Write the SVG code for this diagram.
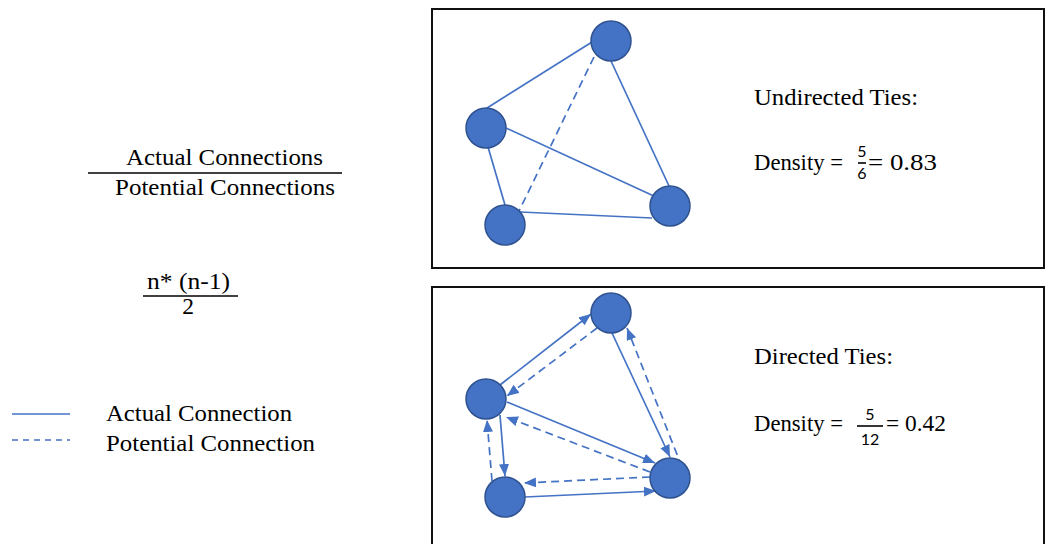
<svg xmlns="http://www.w3.org/2000/svg" width="1047" height="544" viewBox="0 0 1047 544">
  <style>
    .txt { font-family: "Liberation Serif", "Times New Roman", serif; font-size: 23.5px; fill: #000; }
    .frac { font-family: Lato, "Liberation Sans", sans-serif; font-size: 16px; fill: #000; }
    .node { fill: #4472C4; stroke: #2F528F; stroke-width: 1.5; }
    .edge { stroke: #4472C4; stroke-width: 1.7; fill: none; }
    .dash { stroke-dasharray: 8 5; }
    .box { fill: none; stroke: #111; stroke-width: 2; }
    .rule { stroke: #000; stroke-width: 1.6; }
  </style>
  <defs>
    <marker id="arrow" markerUnits="userSpaceOnUse" markerWidth="13" markerHeight="11" refX="12" refY="5" orient="auto">
      <path d="M0,0 L12,5 L0,10 Z" fill="#4472C4"/>
    </marker>
  </defs>
  <rect width="1047" height="544" fill="#ffffff"/>

  <!-- formula on the left -->
  <g id="formula">
    <text class="txt" x="126" y="165" textLength="197" lengthAdjust="spacingAndGlyphs">Actual Connections</text>
    <line class="rule" x1="88" y1="173" x2="342" y2="173"/>
    <text class="txt" x="115" y="195" textLength="220" lengthAdjust="spacingAndGlyphs">Potential Connections</text>
    <text class="txt" x="147" y="289" textLength="83" lengthAdjust="spacingAndGlyphs">n* (n-1)</text>
    <line class="rule" x1="143" y1="296" x2="238" y2="296"/>
    <text class="txt" x="188" y="314" text-anchor="middle">2</text>
  </g>

  <!-- legend -->
  <g id="legend">
    <line class="edge" x1="12" y1="414" x2="70" y2="414" stroke-width="1.4"/>
    <line class="edge" x1="12" y1="440" x2="70" y2="440" stroke-width="1.4" stroke-dasharray="6 5"/>
    <text class="txt" x="106" y="421" textLength="186" lengthAdjust="spacingAndGlyphs">Actual Connection</text>
    <text class="txt" x="106" y="451" textLength="209" lengthAdjust="spacingAndGlyphs">Potential Connection</text>
  </g>

  <!-- panel frames -->
  <rect id="panel-undirected" class="box" x="432" y="9" width="612" height="259"/>
  <rect id="panel-directed" class="box" x="432" y="287" width="612" height="280"/>

  <!-- undirected ties -->
  <g id="undirected-connectors">
    <line class="edge" x1="487" y1="108" x2="592" y2="42"/>
    <line class="edge" x1="611" y1="61" x2="669" y2="186"/>
    <line class="edge" x1="506" y1="128" x2="656" y2="197"/>
    <line class="edge" x1="488" y1="147" x2="505" y2="205"/>
    <line class="edge" x1="520" y1="212" x2="652" y2="218"/>
    <line class="edge dash" x1="594" y1="57" x2="519" y2="211"/>
  </g>
  <g id="u-top"><circle class="node" cx="611" cy="41" r="20"/></g>
  <g id="u-left"><circle class="node" cx="486" cy="128" r="20"/></g>
  <g id="u-bottom"><circle class="node" cx="505" cy="225" r="20"/></g>
  <g id="u-right"><circle class="node" cx="670" cy="206" r="20"/></g>

  <g id="undirected-label">
    <text class="txt" x="754" y="105" textLength="164" lengthAdjust="spacingAndGlyphs">Undirected Ties:</text>
    <text class="txt" x="754" y="170" textLength="89" lengthAdjust="spacingAndGlyphs">Density =</text>
    <text class="frac" x="862" y="157" text-anchor="middle">5</text>
    <line class="rule" x1="858" y1="163" x2="866" y2="163" stroke-width="2.2"/>
    <text class="frac" x="862" y="179" text-anchor="middle">6</text>
    <text class="txt" x="868" y="170" textLength="69" lengthAdjust="spacingAndGlyphs">= 0.83</text>
  </g>

  <!-- directed ties -->
  <g id="directed-connectors">
    <line class="edge" x1="500" y1="385" x2="591" y2="314" marker-end="url(#arrow)"/>
    <line class="edge dash" x1="597" y1="328" x2="507" y2="396" marker-end="url(#arrow)"/>
    <line class="edge" x1="612" y1="333" x2="670" y2="457" marker-end="url(#arrow)"/>
    <line class="edge dash" x1="682" y1="467" x2="627" y2="328" marker-end="url(#arrow)"/>
    <line class="edge" x1="507" y1="402" x2="655" y2="463" marker-end="url(#arrow)"/>
    <line class="edge dash" x1="650" y1="472" x2="506" y2="417" marker-end="url(#arrow)"/>
    <line class="edge" x1="500" y1="415" x2="505" y2="476" marker-end="url(#arrow)"/>
    <line class="edge dash" x1="492" y1="481" x2="487" y2="420" marker-end="url(#arrow)"/>
    <line class="edge" x1="525" y1="497" x2="656" y2="491" marker-end="url(#arrow)"/>
    <line class="edge dash" x1="650" y1="477" x2="524" y2="483" marker-end="url(#arrow)"/>
  </g>
  <g id="d-top"><circle class="node" cx="611" cy="313" r="20"/></g>
  <g id="d-left"><circle class="node" cx="486" cy="399" r="20"/></g>
  <g id="d-bottom"><circle class="node" cx="505" cy="497" r="20"/></g>
  <g id="d-right"><circle class="node" cx="670" cy="478" r="20"/></g>

  <g id="directed-label">
    <text class="txt" x="754" y="364" textLength="139" lengthAdjust="spacingAndGlyphs">Directed Ties:</text>
    <text class="txt" x="754" y="431" textLength="89" lengthAdjust="spacingAndGlyphs">Density =</text>
    <text class="frac" x="870" y="420" text-anchor="middle">5</text>
    <line class="rule" x1="857" y1="426" x2="883" y2="426" stroke-width="2.2"/>
    <text class="frac" x="870" y="445" text-anchor="middle">12</text>
    <text class="txt" x="886" y="431" textLength="60" lengthAdjust="spacingAndGlyphs">= 0.42</text>
  </g>
</svg>
